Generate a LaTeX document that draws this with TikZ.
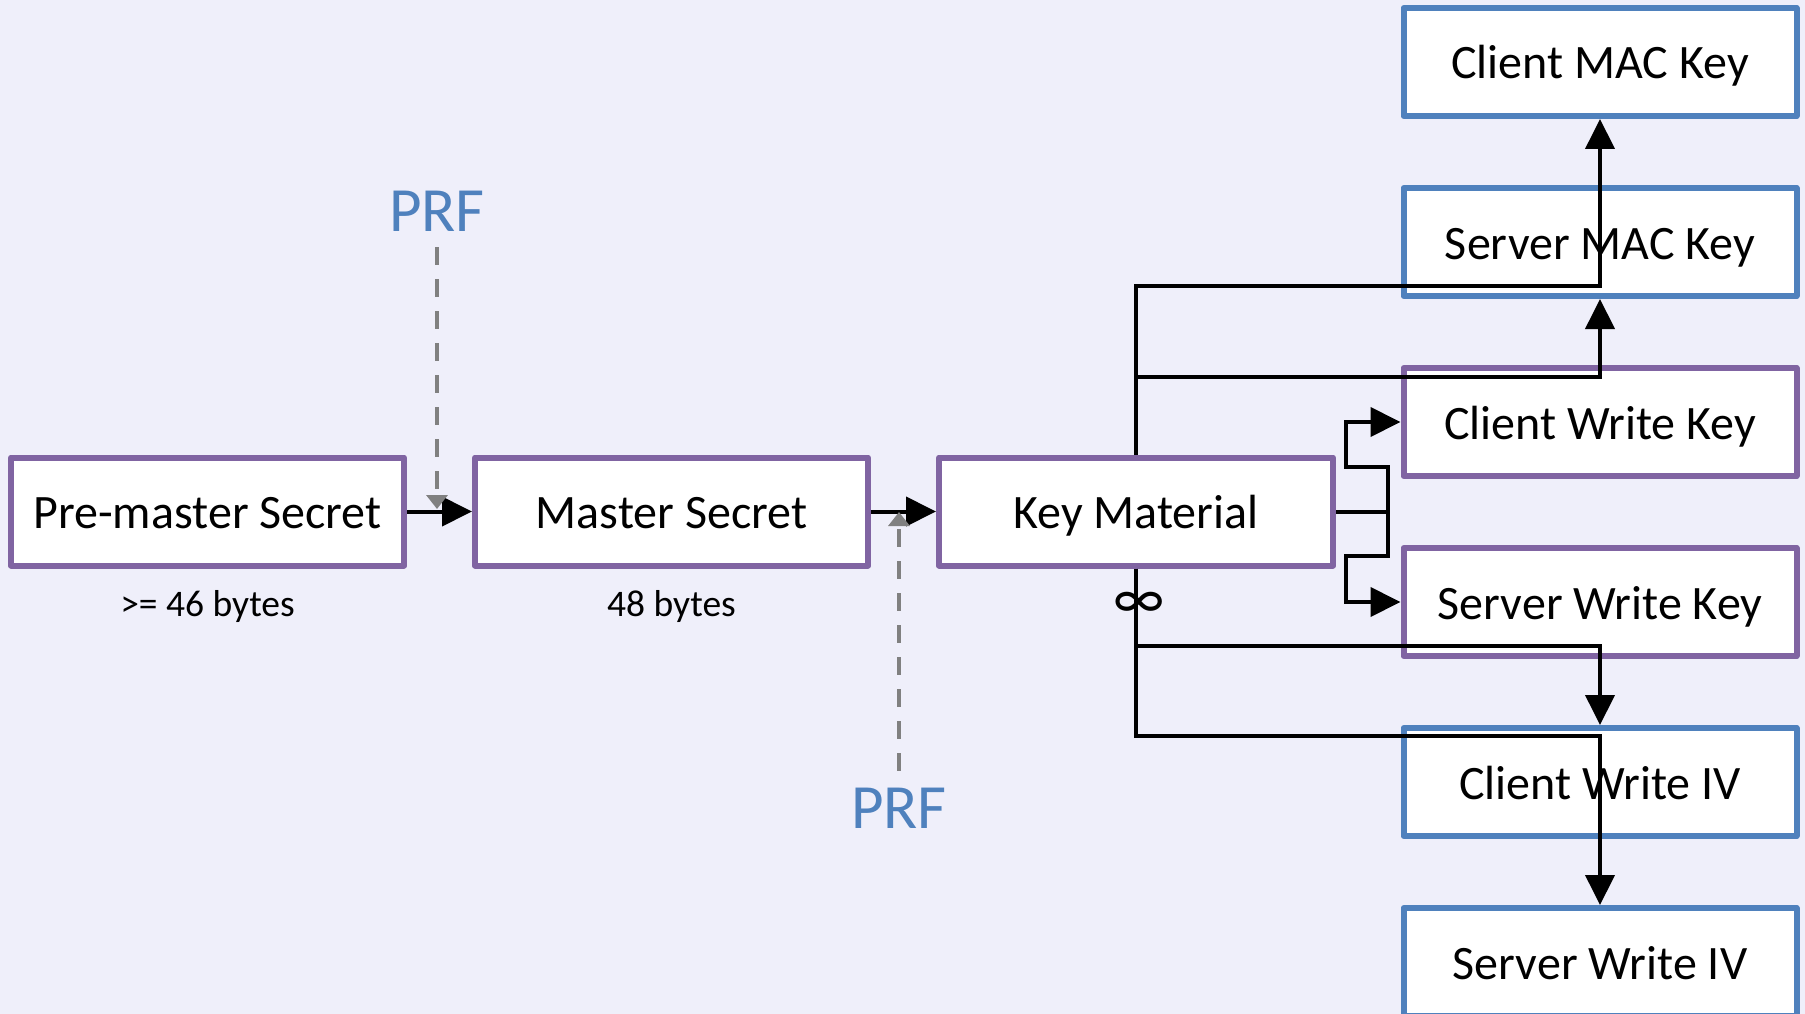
\documentclass[tikz,border=0pt]{standalone}
\usepackage{fontspec}
\setmainfont{Carlito}
\usetikzlibrary{arrows.meta}
\definecolor{bgc}{RGB}{239,239,250}
\definecolor{keypurple}{RGB}{128,100,162}
\definecolor{keyblue}{RGB}{79,129,189}
\definecolor{prfgray}{RGB}{128,128,128}
\begin{document}
\begin{tikzpicture}[x=1pt,y=-1pt,
  box/.style={draw, fill=white, line width=6pt, line join=round,
    minimum width=393pt, minimum height=108pt, inner sep=0pt,
    text height=34pt, text depth=0pt, font=\fontsize{48}{56}\selectfont},
  stage/.style={box, draw=keypurple},
  outkey/.style={box, draw=keyblue},
  conn/.style={line width=4pt, black},
  tip/.style={-{Triangle[length=30pt,width=29pt]}},
  prf/.style={text=keyblue, font=\fontsize{63}{70}\selectfont,
    inner sep=0pt, text height=41pt, text depth=0pt},
  prfline/.style={prfgray, line width=4.5pt, dash pattern=on 18pt off 14pt,
    shorten <=16pt, -{Triangle[length=14pt,width=21pt]}},
  note/.style={font=\fontsize{37.5}{44}\selectfont, inner sep=0pt,
    text height=24pt, text depth=0pt}
]
\useasboundingbox (0,0) rectangle (1805,1014);
\clip (0,0) rectangle (1805,1014);
\fill[bgc] (0,0) rectangle (1805,1014);

% derivation chain
\node[stage] (pm) at (207.5,511.5) {Pre-master Secret};
\node[stage] (ms) at (671.5,511.5) {Master Secret};
\node[stage, minimum width=394pt] (km) at (1136,511.5) {Key Material};

% derived keys
\node[outkey] (cml) at (1600,62) {Client MAC Key};
\node[outkey] (sml) at (1600,242) {Server MAC Key};
\node[stage]  (cwk) at (1600,422) {Client Write Key};
\node[stage]  (swk) at (1600,602) {Server Write Key};
\node[outkey] (cwiv) at (1600,782) {Client Write IV};
\node[outkey] (swiv) at (1600,962) {Server Write IV};

% size notes
\node[note] (pmlbl) at (207.5,604) {>= 46 bytes};
\node[note] (mslbl) at (671.5,604) {48 bytes};

% chain arrows
\draw[conn,tip] (pm.east) -- (ms.west);
\draw[conn,tip] (ms.east) -- (km.west);

% key material fan-out
\draw[conn,tip] (km.north) |- (1600,286) -- (cml.south);
\draw[conn,tip] (km.north) |- (1600,377) -- (sml.south);
\draw[conn,tip] (km.south) |- (1600,646) -- (cwiv.north);
\draw[conn,tip] (km.south) |- (1600,736) -- (swiv.north);
\node[font=\fontsize{60}{60}\selectfont, inner sep=0pt] (inf) at (1139,605) {∞};

\draw[conn] (km.east) -- (1388,511.5);
\draw[conn,tip] (1388,511.5) -- (1388,467) -- (1346,467) |- (cwk.west);
\draw[conn,tip] (1388,511.5) -- (1388,556) -- (1346,556) |- (swk.west);

% PRF inputs
\node[prf] (prfa) at (437,210.5) {PRF};
\node[prf] (prfb) at (899,807.5) {PRF};
\coordinate (prfa tip) at (437,509);
\coordinate (prfb tip) at (899,512);
\draw[prfline] (prfa.south) -- (prfa tip);
\draw[prfline] (prfb.north) -- (prfb tip);
\end{tikzpicture}
\end{document}
